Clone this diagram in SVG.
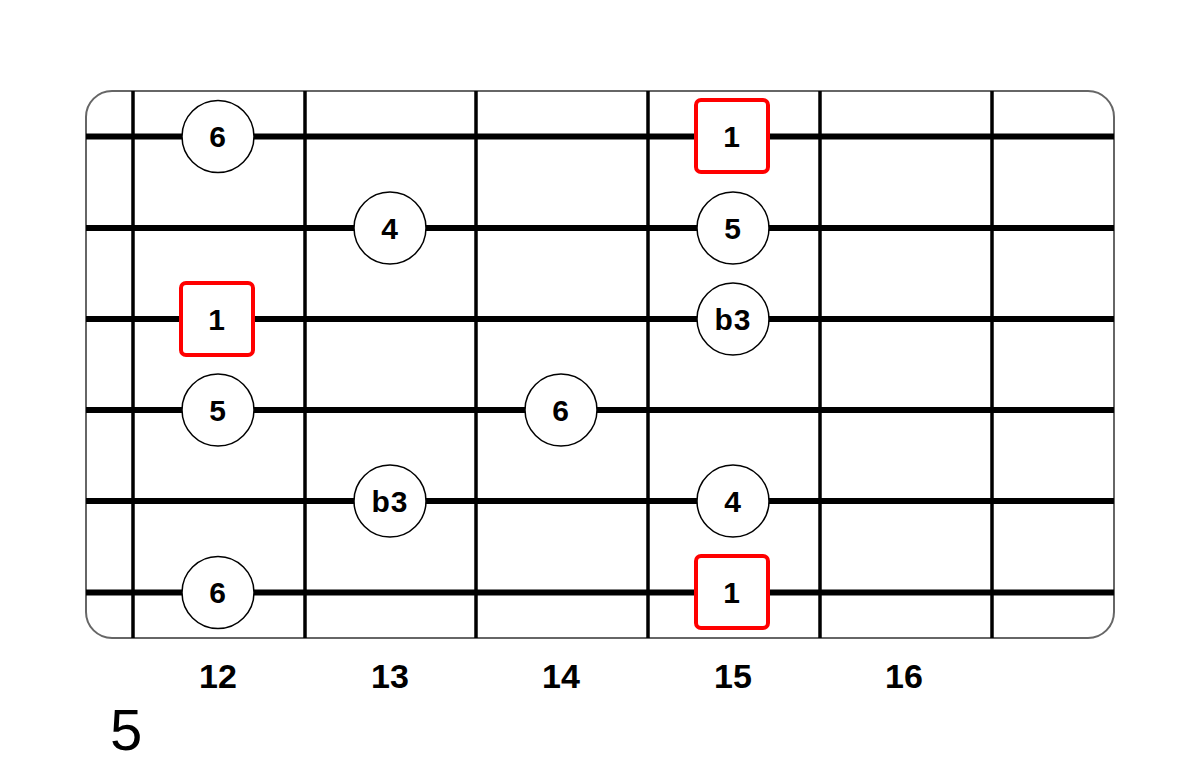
<svg xmlns="http://www.w3.org/2000/svg" width="1200" height="774" viewBox="0 0 1200 774">
<style>
.fret{stroke:#000;stroke-width:3.5}
.str{stroke:#000;stroke-width:6}
.dot circle{fill:#fff;stroke:#000;stroke-width:1.5}
.root rect{fill:#fff;stroke:#f00;stroke-width:4}
.lbl{font-family:"Liberation Sans",Arial,sans-serif;font-weight:bold;font-size:30px;text-anchor:middle;fill:#000;letter-spacing:1px}
.num{font-family:"Liberation Sans",Arial,sans-serif;font-weight:bold;font-size:34px;text-anchor:middle;fill:#000}
</style>
<rect width="1200" height="774" fill="#fff"/>
<g id="board">
<rect x="86" y="91" width="1028" height="547" rx="26" fill="#fff" stroke="#666" stroke-width="2"/>
</g>
<g id="connectors">
<line class="fret" x1="133" y1="91" x2="133" y2="638"/>
<line class="fret" x1="305" y1="91" x2="305" y2="638"/>
<line class="fret" x1="476" y1="91" x2="476" y2="638"/>
<line class="fret" x1="648" y1="91" x2="648" y2="638"/>
<line class="fret" x1="820" y1="91" x2="820" y2="638"/>
<line class="fret" x1="992" y1="91" x2="992" y2="638"/>
<line class="str" x1="86" y1="136.5" x2="1114" y2="136.5"/>
<line class="str" x1="86" y1="228" x2="1114" y2="228"/>
<line class="str" x1="86" y1="319" x2="1114" y2="319"/>
<line class="str" x1="86" y1="410" x2="1114" y2="410"/>
<line class="str" x1="86" y1="501" x2="1114" y2="501"/>
<line class="str" x1="86" y1="592.5" x2="1114" y2="592.5"/>
</g>
<g id="n1" class="dot"><circle cx="218" cy="136.5" r="36"/><text class="lbl" x="218" y="147">6</text></g>
<g id="n2" class="root"><rect x="696" y="100" width="72" height="72" rx="5"/><text class="lbl" x="732" y="147">1</text></g>
<g id="n3" class="dot"><circle cx="390" cy="228" r="36"/><text class="lbl" x="390" y="238.5">4</text></g>
<g id="n4" class="dot"><circle cx="733" cy="228" r="36"/><text class="lbl" x="733" y="238.5">5</text></g>
<g id="n5" class="root"><rect x="181" y="283" width="72" height="72" rx="5"/><text class="lbl" x="217" y="329.5">1</text></g>
<g id="n6" class="dot"><circle cx="733" cy="319" r="36"/><text class="lbl" x="733" y="329.5">b3</text></g>
<g id="n7" class="dot"><circle cx="218" cy="410" r="36"/><text class="lbl" x="218" y="420.5">5</text></g>
<g id="n8" class="dot"><circle cx="561" cy="410" r="36"/><text class="lbl" x="561" y="420.5">6</text></g>
<g id="n9" class="dot"><circle cx="390" cy="501" r="36"/><text class="lbl" x="390" y="511.5">b3</text></g>
<g id="n10" class="dot"><circle cx="733" cy="501" r="36"/><text class="lbl" x="733" y="511.5">4</text></g>
<g id="n11" class="dot"><circle cx="218" cy="592.5" r="36"/><text class="lbl" x="218" y="603">6</text></g>
<g id="n12" class="root"><rect x="696" y="556" width="72" height="72" rx="5"/><text class="lbl" x="732" y="603">1</text></g>
<g id="labels">
<text class="num" x="218" y="688">12</text>
<text class="num" x="390" y="688">13</text>
<text class="num" x="561" y="688">14</text>
<text class="num" x="733" y="688">15</text>
<text class="num" x="904" y="688">16</text>
<text x="110" y="750" font-family="'Liberation Sans',Arial,sans-serif" font-size="58" fill="#000">5</text>
</g>
</svg>
